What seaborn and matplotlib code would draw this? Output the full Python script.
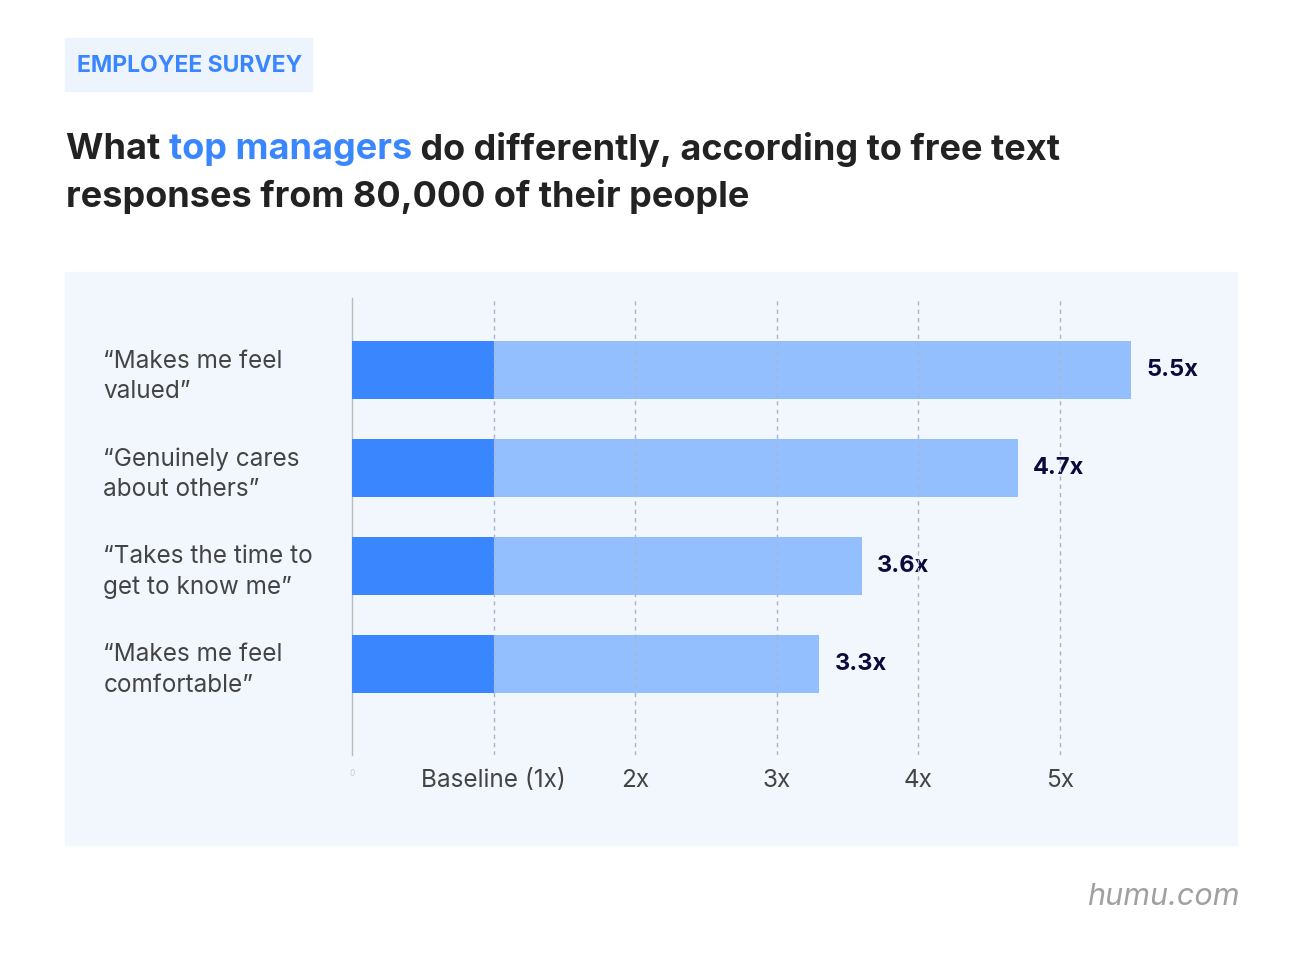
import matplotlib
matplotlib.use("Agg")
import matplotlib.pyplot as plt
import matplotlib.patches as mpatches
import seaborn as sns
import pandas as pd

categories = ["\u201cMakes me feel\nvalued\u201d", "\u201cGenuinely cares\nabout others\u201d",
              "\u201cTakes the time to\nget to know me\u201d", "\u201cMakes me feel\ncomfortable\u201d"]
values = [5.5, 4.7, 3.6, 3.3]
baseline = [1, 1, 1, 1]
value_labels = ["5.5x", "4.7x", "3.6x", "3.3x"]
tick_vals = [0, 1, 2, 3, 4, 5]
tick_labels = ["0", "Baseline (1x)", "2x", "3x", "4x", "5x"]

sns.set_theme(style="white")
plt.rcParams["font.family"] = ["Inter", "DejaVu Sans"]
W, H = 1300, 973
fig = plt.figure(figsize=(13, 9.73), dpi=100)
fig.patch.set_facecolor("white")

fig.add_artist(mpatches.Rectangle((65/W, 1-845/H), (1237-65)/W, (845-272)/H,
                                  transform=fig.transFigure, color="#F2F7FD", zorder=0))
fig.add_artist(mpatches.Rectangle((65/W, 1-91/H), (312-65)/W, (91-38)/H,
                                  transform=fig.transFigure, color="#EEF4FD", zorder=0))
fig.text(77/W, 1-66/H, "EMPLOYEE SURVEY", color="#3A86FF", fontsize=16.5,
         fontweight="bold", va="center", ha="left")

fig.canvas.draw()
r = fig.canvas.get_renderer()
x = 66/W
y1 = 1-149/H
for txt, col in [("What ", "#222222"), ("top managers", "#3A86FF"),
                 (" do differently, according to free text", "#222222")]:
    t = fig.text(x, y1, txt, color=col, fontsize=26, fontweight="bold", va="center", ha="left")
    bb = t.get_window_extent(r)
    x += bb.width / W
fig.text(66/W, 1-197/H, "responses from 80,000 of their people", color="#222222",
         fontsize=26, fontweight="bold", va="center", ha="left")

ax = fig.add_axes([352/W, 1-755/H, (1237-352)/W, (755-298)/H])
ax.set_facecolor("none")
df = pd.DataFrame({"cat": categories, "val": values, "base": baseline})
sns.barplot(data=df, x="val", y="cat", color="#94BFFF", saturation=1, width=0.59, ax=ax,
            zorder=2, linewidth=0)
sns.barplot(data=df, x="base", y="cat", color="#3A86FF", saturation=1, width=0.59, ax=ax,
            zorder=3, linewidth=0)
ax.set_xlim(0, 6.25)
ax.set_ylim(3.93, -0.735)
for v in tick_vals[1:]:
    ax.axvline(v, color="#A9B4C8", lw=1, ls=(0, (3, 3)), zorder=4)
for i, (v, lab) in enumerate(zip(values, value_labels)):
    ax.text(v + 0.11, i, lab, va="center", ha="left", fontsize=17, fontweight="bold", color="#0B0B3B")
ax.set_xticks(tick_vals)
ax.set_xticklabels(tick_labels, fontsize=17.5, color="#444444")
ax.get_xticklabels()[0].set_fontsize(6)
ax.get_xticklabels()[0].set_color("#CCCCCC")
ax.tick_params(axis="x", length=0, pad=10)
ax.set_yticks(range(4))
ax.set_yticklabels(categories, fontsize=17.5, color="#444444", ha="left", linespacing=1.4)
ax.tick_params(axis="y", length=0, pad=179)
ax.set_xlabel("")
ax.set_ylabel("")
for s in ["top", "right", "bottom"]:
    ax.spines[s].set_visible(False)
ax.spines["left"].set_color("#BBBBBB")
ax.spines["left"].set_linewidth(1)

fig.text(1240/W, 1-897/H, "humu.com", color="#A0A0A0", fontsize=22, style="italic",
         ha="right", va="center")
fig.savefig("out.png", dpi=100, facecolor="white")
